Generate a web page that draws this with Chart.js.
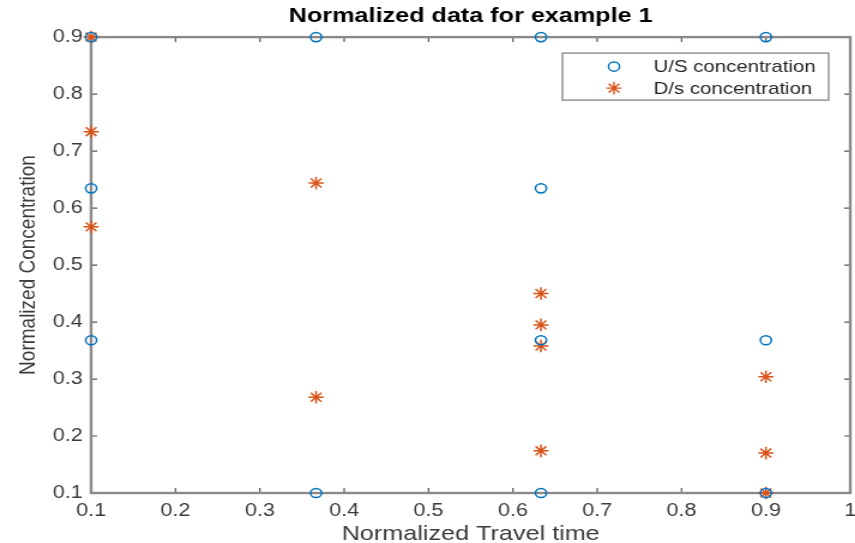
<!DOCTYPE html>
<html>
<head>
<meta charset="utf-8">
<title>Normalized data for example 1</title>
<script src="https://cdn.jsdelivr.net/npm/chart.js@4/dist/chart.umd.min.js"></script>
<style>
  html, body { margin: 0; padding: 0; background: #fff; overflow: hidden; }
  /* the original figure is stretched sideways, so the canvas is too */
  #wrap { width: 713px; height: 543px; transform: scaleX(1.1992); transform-origin: 0 0; }
</style>
</head>
<body>
<div id="wrap"><canvas id="chart" width="713" height="543"></canvas></div>
<script>
// values
let usLabel = 'U/S concentration';
let dsLabel = 'D/s concentration';
let usX = [0.1, 0.1, 0.1, 0.3667, 0.3667, 0.6333, 0.6333, 0.6333, 0.6333, 0.9, 0.9, 0.9];
let usY = [0.9, 0.6346, 0.368, 0.9, 0.1, 0.9, 0.6346, 0.368, 0.1, 0.9, 0.368, 0.1];
let dsX = [0.1, 0.1, 0.1, 0.3667, 0.3667, 0.6333, 0.6333, 0.6333, 0.6333, 0.9, 0.9, 0.9];
let dsY = [0.9, 0.734, 0.567, 0.644, 0.268, 0.450, 0.395, 0.358, 0.174, 0.304, 0.170, 0.1];
let xTicks = [0.1, 0.2, 0.3, 0.4, 0.5, 0.6, 0.7, 0.8, 0.9, 1];
let yTicks = [0.1, 0.2, 0.3, 0.4, 0.5, 0.6, 0.7, 0.8, 0.9];

let font = '"Liberation Sans", Arial, Helvetica, sans-serif';
let blue = '#0072BD';
let orange = '#D95319';
let frameColor = '#8a8a8a';

function toPoints(xs, ys) {
    return xs.map((x, i) => ({ x: x, y: ys[i] }));
}

// box around the plot with MATLAB style inward ticks
let framePlugin = {
    id: 'frame',
    beforeDatasetsDraw(chart) {
        let ctx = chart.ctx;
        let a = chart.chartArea;
        let xs = chart.scales.x;
        let ys = chart.scales.y;
        ctx.save();
        ctx.strokeStyle = '#555';
        ctx.lineWidth = 1.2;
        ctx.beginPath();
        xTicks.forEach(v => {
            let px = xs.getPixelForValue(v);
            ctx.moveTo(px, a.bottom); ctx.lineTo(px, a.bottom - 5);
            ctx.moveTo(px, a.top); ctx.lineTo(px, a.top + 5);
        });
        yTicks.forEach(v => {
            let py = ys.getPixelForValue(v);
            ctx.moveTo(a.left, py); ctx.lineTo(a.left + 5, py);
            ctx.moveTo(a.right, py); ctx.lineTo(a.right - 5, py);
        });
        ctx.stroke();
        ctx.strokeStyle = frameColor;
        ctx.lineWidth = 2.4;
        ctx.strokeRect(a.left, a.top, a.right - a.left, a.bottom - a.top);
        ctx.restore();
    }
};

// boxed legend in the upper right corner of the axes
let boxLegend = {
    id: 'boxLegend',
    afterDraw(chart) {
        let ctx = chart.ctx;
        let a = chart.chartArea;
        let right = a.right - 18;
        let left = right - 222;
        let top = a.top + 16;
        let height = 47;
        ctx.save();
        ctx.fillStyle = '#fff';
        ctx.fillRect(left, top, right - left, height);
        ctx.strokeStyle = frameColor;
        ctx.lineWidth = 1.4;
        ctx.strokeRect(left, top, right - left, height);
        ctx.font = '17px ' + font;
        ctx.textBaseline = 'middle';
        chart.data.datasets.forEach((ds, i) => {
            let y = top + 13.5 + i * 21.5;
            ctx.strokeStyle = ds.borderColor;
            ctx.fillStyle = 'rgba(0,0,0,0)';
            Chart.helpers.drawPoint(ctx, {
                pointStyle: ds.pointStyle,
                radius: ds.pointRadius,
                borderWidth: ds.borderWidth,
                rotation: 0
            }, left + 43, y);
            ctx.fillStyle = '#262626';
            ctx.fillText(ds.label, left + 76, y + 1);
        });
        ctx.restore();
    }
};

let ctx = document.getElementById('chart').getContext('2d');
let chart = new Chart(ctx, {
    type: 'scatter',
    data: {
        datasets: [{
            label: usLabel,
            data: toPoints(usX, usY),
            pointStyle: 'circle',
            pointRadius: 4.6,
            borderWidth: 1.5,
            borderColor: blue,
            backgroundColor: 'rgba(0,0,0,0)',
            clip: false
        }, {
            label: dsLabel,
            data: toPoints(dsX, dsY),
            pointStyle: 'star',
            pointRadius: 6.3,
            borderWidth: 1.5,
            borderColor: orange,
            backgroundColor: orange,
            clip: false
        }]
    },
    options: {
        responsive: false,
        animation: false,
        events: [],
        layout: { autoPadding: false, padding: { left: 0, right: 4, top: 0, bottom: 0 } },
        plugins: {
            legend: { display: false },
            tooltip: { enabled: false },
            title: {
                display: true,
                text: 'Normalized data for example 1',
                fullSize: false,
                color: '#000',
                font: { family: font, size: 21, weight: 'bold', lineHeight: 1.1 },
                padding: { top: 5, bottom: 9 }
            }
        },
        scales: {
            x: {
                type: 'linear',
                min: 0.1,
                max: 1,
                afterBuildTicks: s => { s.ticks = xTicks.map(v => ({ value: v })); },
                afterFit: s => { s.height = 50; s.paddingLeft = 0; s.paddingRight = 0; },
                grid: { display: false, drawTicks: false },
                border: { display: false },
                ticks: {
                    color: '#3a3a3a',
                    padding: 7,
                    maxRotation: 0,
                    autoSkip: false,
                    font: { family: font, size: 18 },
                    callback: v => String(Number(v.toFixed(1)))
                },
                title: {
                    display: true,
                    text: 'Normalized Travel time',
                    color: '#3a3a3a',
                    font: { family: font, size: 21, lineHeight: 0.8 },
                    padding: { top: 0, bottom: 0 }
                }
            },
            y: {
                type: 'linear',
                min: 0.1,
                max: 0.9,
                afterBuildTicks: s => { s.ticks = yTicks.map(v => ({ value: v })); },
                afterFit: s => { s.width = 76; s.paddingTop = 0; s.paddingBottom = 0; },
                grid: { display: false, drawTicks: false },
                border: { display: false },
                ticks: {
                    color: '#3a3a3a',
                    padding: 7,
                    autoSkip: false,
                    font: { family: font, size: 18 },
                    callback: v => v.toFixed(1)
                },
                title: {
                    display: true,
                    text: 'Normalized Concentration',
                    color: '#3a3a3a',
                    font: { family: font, size: 19, lineHeight: 1.2 },
                    padding: { top: 12, bottom: 0 }
                }
            }
        }
    },
    plugins: [framePlugin, boxLegend]
});
</script>
</body>
</html>
